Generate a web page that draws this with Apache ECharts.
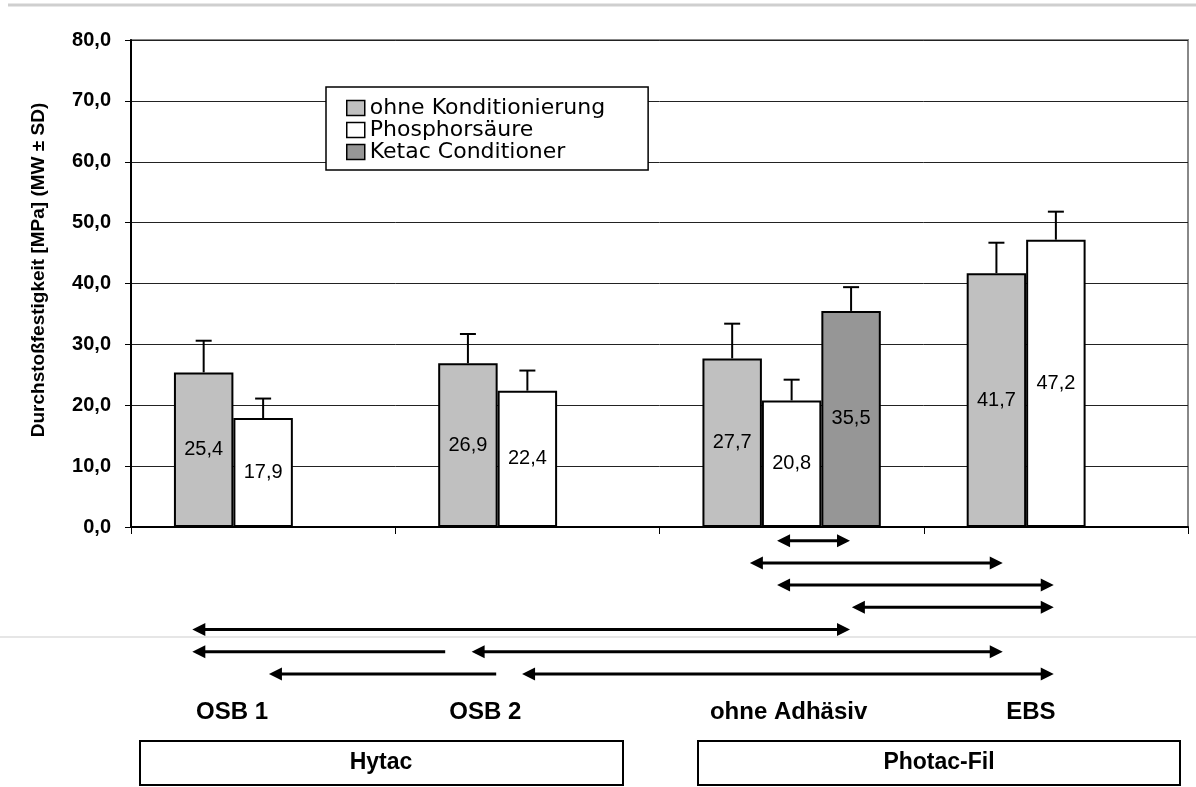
<!DOCTYPE html>
<html>
<head>
<meta charset="utf-8">
<title>Durchstoßfestigkeit</title>
<script src="https://cdn.jsdelivr.net/npm/echarts@6.0.0/dist/echarts.min.js"></script>
<style>
  html, body { margin: 0; padding: 0; background: #fff; }
  #chart { width: 1196px; height: 787px; }
</style>
</head>
<body>
<div id="chart"></div>
<script>
const categories = ['OSB 1', 'OSB 2', 'ohne Adhäsiv', 'EBS'];
const seriesNames = ['ohne Konditionierung', 'Phosphorsäure', 'Ketac Conditioner'];
const meanOhne = [25.4, 26.9, 27.7, 41.7];
const meanPhos = [17.9, 22.4, 20.8, 47.2];
const meanKetac = ['-', '-', 35.5, '-'];
const sdOhne = [5.2, 4.8, 5.7, 5.0];
const sdPhos = [3.2, 3.3, 3.4, 4.6];
const sdKetac = ['-', '-', 3.9, '-'];
const groupNames = ['Hytac', 'Photac-Fil'];
const yTitle = 'Durchstoßfestigkeit [MPa] (MW ± SD)';

// significance arrows, x in category units (0..4), row 1 = just under the axis
const arrowRow = [1, 2, 3, 4, 5, 6, 6, 7, 7];
const arrowFrom = [2.445, 2.342, 2.445, 2.728, 0.232, 0.232, 1.289, 0.522, 1.480];
const arrowTo = [2.721, 3.299, 3.492, 3.492, 2.721, 1.189, 3.299, 1.382, 3.492];
const arrowBoth = [1, 1, 1, 1, 1, 0, 1, 0, 1];

// the category labels sit a little left of the band centres in the original
const labelShift = [-31, -42, -3, -25];

const colors = ['#c0c0c0', '#ffffff', '#969696'];
const font = 'Liberation Sans, Arial, sans-serif';
const BAR_FRAC = 0.225;

const myChart = echarts.init(document.getElementById('chart'));

function fmt(v) {
  return v.toFixed(1).replace('.', ',');
}

function errorBar(slot) {
  return function (params, api) {
    const idx = api.value(0);
    const mean = api.value(1);
    const sd = api.value(2);
    const bw = api.size([1, 0])[0] * BAR_FRAC;
    const base = api.coord([idx, mean]);
    const x = base[0] + (slot - 1) * bw;
    const top = api.coord([idx, mean + sd])[1];
    const st = { stroke: '#000', lineWidth: 2 };
    return {
      type: 'group',
      children: [
        { type: 'line', shape: { x1: x, y1: base[1], x2: x, y2: top }, style: st },
        { type: 'line', shape: { x1: x - 8, y1: top, x2: x + 8, y2: top }, style: st }
      ]
    };
  };
}

function errData(means, sds) {
  const out = [];
  means.forEach((m, i) => {
    if (m !== '-') out.push([i, m, sds[i]]);
  });
  return out;
}

function arrowItem(params, api) {
  const p1 = api.coord([api.value(0), api.value(2)]);
  const p2 = api.coord([api.value(1), api.value(2)]);
  const both = api.value(3) === 1;
  const y = p1[1];
  const hl = 13, hw = 6.5;
  const children = [
    { type: 'line', shape: { x1: p1[0] + 4, y1: y, x2: both ? p2[0] - 4 : p2[0], y2: y },
      style: { stroke: '#000', lineWidth: 3 } },
    { type: 'polygon', shape: { points: [[p1[0], y], [p1[0] + hl, y - hw], [p1[0] + hl, y + hw]] },
      style: { fill: '#000' } }
  ];
  if (both) {
    children.push({ type: 'polygon', shape: { points: [[p2[0], y], [p2[0] - hl, y - hw], [p2[0] - hl, y + hw]] },
      style: { fill: '#000' } });
  }
  return { type: 'group', children: children };
}

const barLabel = {
  show: true,
  position: 'inside',
  color: '#000',
  fontFamily: font,
  fontSize: 20,
  formatter: p => fmt(p.value)
};

function barSeries(name, data, color) {
  return {
    name: name,
    type: 'bar',
    data: data,
    barWidth: (BAR_FRAC * 100) + '%',
    barGap: '0%',
    itemStyle: { color: color, borderColor: '#000', borderWidth: 2 },
    label: barLabel,
    emphasis: { disabled: true }
  };
}

myChart.setOption({
  animation: false,
  backgroundColor: '#fff',
  textStyle: { fontFamily: font },
  legend: {
    data: seriesNames,
    orient: 'vertical',
    left: 326,
    top: 87,
    padding: [10, 43, 7, 20],
    icon: 'rect',
    itemWidth: 18,
    itemHeight: 15,
    itemGap: 0,
    itemStyle: { borderColor: '#000', borderWidth: 1.5 },
    backgroundColor: '#fff',
    borderColor: '#000',
    borderWidth: 1.5,
    borderRadius: 0,
    selectedMode: false,
    textStyle: { color: '#000', fontFamily: 'DejaVu Sans, sans-serif', fontSize: 22, lineHeight: 20 }
  },
  grid: [
    {
      left: 131, right: 8, top: 40, bottom: 260,
      show: true, borderColor: '#888', borderWidth: 2
    },
    // strip under the plot for the significance arrows
    { left: 131, right: 8, top: 518.5, height: 177.6 }
  ],
  xAxis: [
    {
      type: 'category',
      gridIndex: 0,
      data: categories.map((c, i) => ({
        value: c,
        textStyle: { padding: [0, -2 * labelShift[i], 0, 0] }
      })),
      axisLine: { lineStyle: { color: '#000', width: 2 } },
      axisTick: { show: true, length: 7, lineStyle: { color: '#000', width: 1 } },
      axisLabel: {
        interval: 0, margin: 173, color: '#000',
        fontFamily: font, fontSize: 24, fontWeight: 'bold'
      }
    },
    { type: 'value', gridIndex: 1, min: 0, max: 4, show: false }
  ],
  yAxis: [
    {
      type: 'value',
      gridIndex: 0,
      min: 0,
      max: 80,
      interval: 10,
      axisLine: { show: true, lineStyle: { color: '#000', width: 2 } },
      axisTick: { show: true, length: 6, lineStyle: { color: '#000' } },
      axisLabel: {
        margin: 20, color: '#000', fontFamily: font, fontSize: 20, fontWeight: 'bold',
        formatter: v => fmt(v)
      },
      splitLine: { lineStyle: { color: '#222', width: 1 } }
    },
    { type: 'value', gridIndex: 1, min: 0, max: 8, inverse: true, show: false }
  ],
  series: [
    barSeries(seriesNames[0], meanOhne, colors[0]),
    barSeries(seriesNames[1], meanPhos, colors[1]),
    barSeries(seriesNames[2], meanKetac, colors[2]),
    { type: 'custom', name: 'sd0', renderItem: errorBar(0), data: errData(meanOhne, sdOhne), encode: { x: 0, y: 1 }, z: 3 },
    { type: 'custom', name: 'sd1', renderItem: errorBar(1), data: errData(meanPhos, sdPhos), encode: { x: 0, y: 1 }, z: 3 },
    { type: 'custom', name: 'sd2', renderItem: errorBar(2), data: errData(meanKetac, sdKetac), encode: { x: 0, y: 1 }, z: 3 },
    {
      type: 'custom',
      name: 'Signifikanz',
      xAxisIndex: 1,
      yAxisIndex: 1,
      renderItem: arrowItem,
      encode: { x: [0, 1], y: 2 },
      data: arrowRow.map((r, i) => [arrowFrom[i], arrowTo[i], r, arrowBoth[i]]),
      silent: true
    }
  ],
  graphic: [
    { type: 'line', shape: { x1: 8, y1: 5, x2: 1196, y2: 5 }, style: { stroke: '#cfcfcf', lineWidth: 3 } },
    { type: 'line', shape: { x1: 0, y1: 637, x2: 1196, y2: 637 }, style: { stroke: '#e6e6e6', lineWidth: 2 }, z: -1 },
    {
      type: 'text', x: 39, y: 270, rotation: Math.PI / 2,
      style: {
        text: yTitle, fill: '#000', font: 'bold 19px ' + font,
        textAlign: 'center', textVerticalAlign: 'middle'
      }
    },
    { type: 'rect', shape: { x: 140, y: 741, width: 483, height: 44 }, style: { fill: 'none', stroke: '#000', lineWidth: 2 } },
    { type: 'rect', shape: { x: 698, y: 741, width: 482, height: 44 }, style: { fill: 'none', stroke: '#000', lineWidth: 2 } },
    {
      type: 'text', x: 381, y: 763,
      style: { text: groupNames[0], fill: '#000', font: 'bold 23px ' + font, textAlign: 'center', textVerticalAlign: 'middle' }
    },
    {
      type: 'text', x: 939, y: 763,
      style: { text: groupNames[1], fill: '#000', font: 'bold 23px ' + font, textAlign: 'center', textVerticalAlign: 'middle' }
    }
  ]
});
</script>
</body>
</html>
